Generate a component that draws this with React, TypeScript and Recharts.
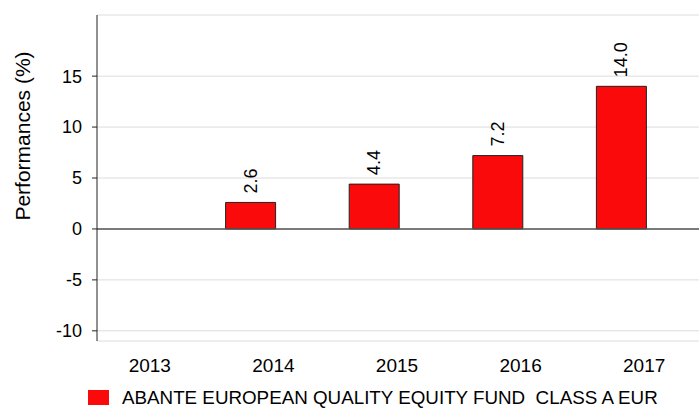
import React from "react";
import { Bar, ComposedChart, CartesianGrid, XAxis, YAxis, Legend, ReferenceLine } from "recharts";

const years = ["2013", "2014", "2015", "2016", "2017"];
const fundValues: (number | null)[] = [null, 2.6, 4.4, 7.2, 14.0];
const benchmarkValues: (number | null)[] = [null, null, null, null, null];
const yTicks = [-10, -5, 0, 5, 10, 15];
const fundName = "ABANTE EUROPEAN QUALITY EQUITY FUND  CLASS A EUR";

const data = years.map((year, i) => ({
  year,
  fund: fundValues[i],
  benchmark: benchmarkValues[i],
}));

const FONT = '"Liberation Sans", Arial, sans-serif';
const RED = "#fa0a0a";

const ValueLabel = (props: any) => {
  const { x, y, width, value } = props;
  if (value === null || value === undefined) return null;
  const cx = x + width / 2;
  const cy = y - 9;
  return (
    <text
      x={cx}
      y={cy}
      transform={`rotate(-90 ${cx} ${cy})`}
      textAnchor="start"
      dominantBaseline="central"
      fontSize={18}
      fontFamily={FONT}
      fill="#000"
    >
      {Number(value).toFixed(1)}
    </text>
  );
};

const YLabel = () => (
  <text
    x={22}
    y={136}
    transform="rotate(-90 22 136)"
    textAnchor="middle"
    dominantBaseline="central"
    fontSize={21}
    fontFamily={FONT}
    fill="#000"
  >
    Performances (%)
  </text>
);

const LegendContent = () => (
  <div style={{ display: "flex", alignItems: "center", fontFamily: FONT, fontSize: 18.8, color: "#000", lineHeight: "17px" }}>
    <span style={{ display: "inline-block", width: 21, height: 15, background: RED, marginRight: 13 }} />
    <span style={{ whiteSpace: "pre" }}>{fundName}</span>
  </div>
);

export default function App() {
  return (
    <div style={{ position: "absolute", left: 0, top: 0 }}>
      <ComposedChart
        width={699}
        height={408}
        data={data}
        margin={{ top: 15, right: 0, bottom: 0, left: 0 }}
        barSize={50}
        barGap={-5}
      >
        <CartesianGrid horizontal vertical={false} stroke="#dcdcdc" />
        <XAxis
          dataKey="year"
          height={67}
          axisLine={false}
          tickLine={false}
          tickMargin={12}
          padding={{ left: -9, right: -7 }}
          tick={{ fontSize: 19, fontFamily: FONT, fill: "#000" }}
        />
        <YAxis
          width={97}
          domain={[-11, 21]}
          ticks={yTicks}
          allowDataOverflow
          tickSize={5}
          tickMargin={10}
          axisLine={{ stroke: "#222" }}
          tickLine={{ stroke: "#222" }}
          tick={{ fontSize: 18, fontFamily: FONT, fill: "#000" }}
          label={<YLabel />}
        />
        <ReferenceLine y={0} stroke="#555" strokeWidth={1.5} />
        <Bar
          dataKey="fund"
          name={fundName}
          fill={RED}
          stroke="#222"
          strokeWidth={1}
          isAnimationActive={false}
          label={<ValueLabel />}
        />
        <Bar dataKey="benchmark" legendType="none" fill="#888" isAnimationActive={false} />
        <Legend
          layout="horizontal"
          verticalAlign="middle"
          align="center"
          content={<LegendContent />}
          wrapperStyle={{ position: "absolute", top: 389, left: 88, width: "auto" }}
        />
      </ComposedChart>
    </div>
  );
}
